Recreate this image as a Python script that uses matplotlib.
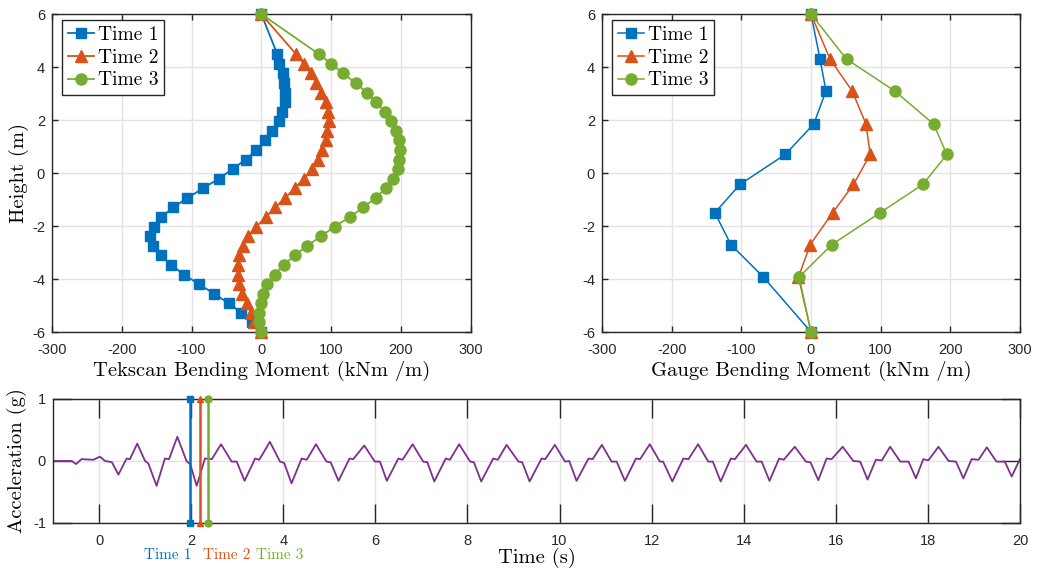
import matplotlib
matplotlib.use("Agg")
import matplotlib.pyplot as plt

# Tekscan sensor profile (height in m, bending moment in kNm/m)
tek_height = [6.0, 4.48, 4.12, 3.76, 3.40, 3.04, 2.67, 2.31, 1.95, 1.59, 1.23, 0.87,
              0.51, 0.15, -0.21, -0.57, -0.94, -1.30, -1.66, -2.02, -2.38, -2.74,
              -3.10, -3.47, -3.83, -4.19, -4.55, -4.91, -5.27, -5.63, -6.0]
tek_time1 = [0, 23, 25.5, 31, 33, 34, 34, 30, 25, 15.5, 5.5, -7, -22.6, -41, -61, -83,
             -106, -126, -143.5, -154, -160, -155, -144, -129, -111, -89.5, -68, -47,
             -29, -14, 0]
tek_time2 = [0, 50, 61, 71, 79, 86, 92, 96, 97, 94, 93, 87, 81, 73, 61, 48, 34, 20, 6.5,
             -7, -19, -26, -32, -33, -33, -32, -28, -21, -15, -10, 0]
tek_time3 = [0, 83, 100.5, 117, 135, 151, 165, 177, 186.5, 193.7, 198, 199.4, 198, 196,
             189, 178, 164, 146, 127, 105, 86, 66, 48, 32, 19, 8, 2.6, -1, -3, -3, 0]

# strain gauge profile
gauge_height = [6.0, 4.3, 3.1, 1.85, 0.7, -0.43, -1.5, -2.7, -3.92, -6.0]
gauge_time1 = [0, 13, 21.5, 4, -37, -102, -138, -115, -68.6, 0]
gauge_time2 = [0, 27.3, 59, 79, 85, 61, 31, -1, -18, 0]
gauge_time3 = [0, 51, 120, 176, 195, 160.6, 99, 30, -17, 0]

# acceleration record
acc_t = [-1.0, -0.59, -0.50, -0.38, -0.12, 0.02, 0.13, 0.28, 0.42, 0.60, 0.67, 0.83,
         1.0, 1.07, 1.25, 1.43, 1.52, 1.70, 1.90, 1.98, 2.12, 2.30, 2.45, 2.65,
         2.88, 2.99, 3.16, 3.39, 3.48, 3.71, 3.93, 4.02, 4.18, 4.40, 4.51, 4.71,
         4.94, 5.03, 5.20, 5.44, 5.52, 5.76, 5.99, 6.10, 6.25, 6.50, 6.59, 6.81,
         7.04, 7.13, 7.28, 7.53, 7.62, 7.82, 8.06, 8.14, 8.30, 8.56, 8.66, 8.85,
         9.11, 9.19, 9.35, 9.61, 9.69, 9.90, 10.12, 10.21, 10.37, 10.63, 10.72, 10.92,
         11.13, 11.24, 11.42, 11.66, 11.75, 11.96, 12.18, 12.25, 12.45, 12.69, 12.80, 13.01,
         13.23, 13.33, 13.50, 13.72, 13.81, 14.05, 14.28, 14.39, 14.56, 14.77, 14.87, 15.11,
         15.35, 15.45, 15.62, 15.80, 15.91, 16.15, 16.38, 16.53, 16.69, 16.87, 17.00, 17.18,
         17.40, 17.58, 17.74, 17.90, 18.01, 18.23, 18.45, 18.61, 18.77, 18.95, 19.10, 19.28,
         19.49, 19.67, 19.82, 20.0]
acc_g = [0.0, 0.0, -0.05, 0.03, 0.02, 0.07, 0.0, -0.02, -0.22, 0.04, 0.03, 0.28,
         0.0, -0.04, -0.40, 0.04, 0.03, 0.39, 0.0, -0.05, -0.40, 0.04, 0.03, 0.27,
         -0.01, -0.01, -0.32, 0.04, 0.02, 0.31, -0.01, -0.03, -0.36, 0.04, 0.02, 0.27,
         -0.01, -0.02, -0.32, 0.04, 0.03, 0.25, -0.01, -0.01, -0.32, 0.04, 0.02, 0.27,
         -0.01, -0.02, -0.33, 0.04, 0.02, 0.27, -0.01, -0.02, -0.33, 0.04, 0.02, 0.26,
         -0.01, -0.02, -0.33, 0.04, 0.03, 0.26, -0.01, 0.0, -0.32, 0.04, 0.03, 0.26,
         -0.01, -0.01, -0.32, 0.04, 0.03, 0.27, -0.01, -0.01, -0.33, 0.04, 0.03, 0.27,
         -0.01, -0.01, -0.33, 0.04, 0.03, 0.26, -0.01, -0.01, -0.32, 0.04, 0.02, 0.23,
         -0.01, -0.02, -0.31, 0.04, 0.03, 0.23, 0.0, -0.01, -0.30, 0.02, 0.01, 0.23,
         -0.01, -0.01, -0.28, 0.03, 0.01, 0.23, 0.0, -0.01, -0.28, 0.03, 0.02, 0.22,
         -0.01, -0.01, -0.25, 0.03]

# snapshot times (s)
snap_labels = ["Time 1", "Time 2", "Time 3"]
snap_times = [1.98, 2.20, 2.37]

blue = "#0072BD"
orange = "#D95319"
green = "#77AC30"
purple = "#7E2F8E"
colors = [blue, orange, green]
markers = ["s", "^", "o"]
msizes = [7, 8.5, 8]

plt.rcParams["font.family"] = "Liberation Sans"
plt.rcParams["axes.unicode_minus"] = False
serif = "cmr10"

fig = plt.figure(figsize=(10.39, 5.77), dpi=100)
ax1 = fig.add_axes([0.050, 0.4246, 0.403, 0.551])
ax2 = fig.add_axes([0.5794, 0.4246, 0.4023, 0.551])
ax3 = fig.add_axes([0.051, 0.0936, 0.9307, 0.2149])


def style(ax, ticklen):
    ax.grid(True, color="#e3e3e3", linewidth=1.0)
    ax.set_axisbelow(True)
    ax.tick_params(direction="in", top=True, right=True, length=ticklen, width=1,
                   labelsize=10.5, color="#262626", labelcolor="#262626")
    ax.tick_params(axis="x", pad=8)
    ax.tick_params(axis="y", pad=5)
    for s in ax.spines.values():
        s.set_color("#262626")
        s.set_linewidth(1.0)


def add_legend(ax):
    leg = ax.legend(loc="upper left", bbox_to_anchor=(0.024, 0.981), borderaxespad=0,
                    prop={"family": serif, "size": 14}, fancybox=False,
                    edgecolor="#262626", framealpha=1, handlelength=1.35, borderpad=0.3,
                    labelspacing=0.25, handletextpad=0.2)
    leg.get_frame().set_linewidth(1.0)


tek_series = [tek_time1, tek_time2, tek_time3]
for vals, c, m, ms, lab in zip(tek_series, colors, markers, msizes, snap_labels):
    ax1.plot(vals, tek_height, color=c, marker=m, markersize=ms, lw=1.3, label=lab,
             clip_on=False, zorder=3)
ax1.set_xlim(-300, 300)
ax1.set_ylim(-6, 6)
ax1.set_xticks(range(-300, 301, 100))
ax1.set_yticks(range(-6, 7, 2))
ax1.set_xlabel("Tekscan Bending Moment (kNm /m)", fontfamily=serif, fontsize=14.8, labelpad=3)
ax1.set_ylabel("Height (m)", fontfamily=serif, fontsize=14.8, labelpad=2)
style(ax1, 4)
add_legend(ax1)

gauge_series = [gauge_time1, gauge_time2, gauge_time3]
for vals, c, m, ms, lab in zip(gauge_series, colors, markers, msizes, snap_labels):
    ax2.plot(vals, gauge_height, color=c, marker=m, markersize=ms, lw=1.1, label=lab,
             clip_on=False, zorder=3)
ax2.set_xlim(-300, 300)
ax2.set_ylim(-6, 6)
ax2.set_xticks(range(-300, 301, 100))
ax2.set_yticks(range(-6, 7, 2))
ax2.set_xlabel("Gauge Bending Moment (kNm /m)", fontfamily=serif, fontsize=14.8, labelpad=3)
style(ax2, 4)
add_legend(ax2)

ax3.plot(acc_t, acc_g, color=purple, lw=1.3, zorder=2, solid_joinstyle="round")
for tt, c, m in zip(snap_times, colors, markers):
    ax3.plot([tt, tt], [-1, 1], color=c, marker=m, markersize=5, lw=1.8, clip_on=False,
             zorder=3)
ax3.set_xlim(-1, 20)
ax3.set_ylim(-1, 1)
ax3.set_xticks(range(0, 21, 2))
ax3.set_yticks([-1, 0, 1])
ax3.set_xlabel("Time (s)", fontfamily=serif, fontsize=14.8, labelpad=0)
ax3.set_ylabel("Acceleration (g)", fontfamily=serif, fontsize=14.8, labelpad=4)
style(ax3, 14)

# coloured snapshot names under the time axis
ax3.text(snap_times[0] + 0.02, -1.4, snap_labels[0], color=blue, ha="right", va="top",
         fontfamily=serif, fontsize=11, transform=ax3.transData)
ax3.text(snap_times[1] + 0.05, -1.4, snap_labels[1], color=orange, ha="left", va="top",
         fontfamily=serif, fontsize=11, transform=ax3.transData)
ax3.text(3.40, -1.4, snap_labels[2], color=green, ha="left", va="top",
         fontfamily=serif, fontsize=11, transform=ax3.transData)

fig.savefig("out.png", dpi=100)
